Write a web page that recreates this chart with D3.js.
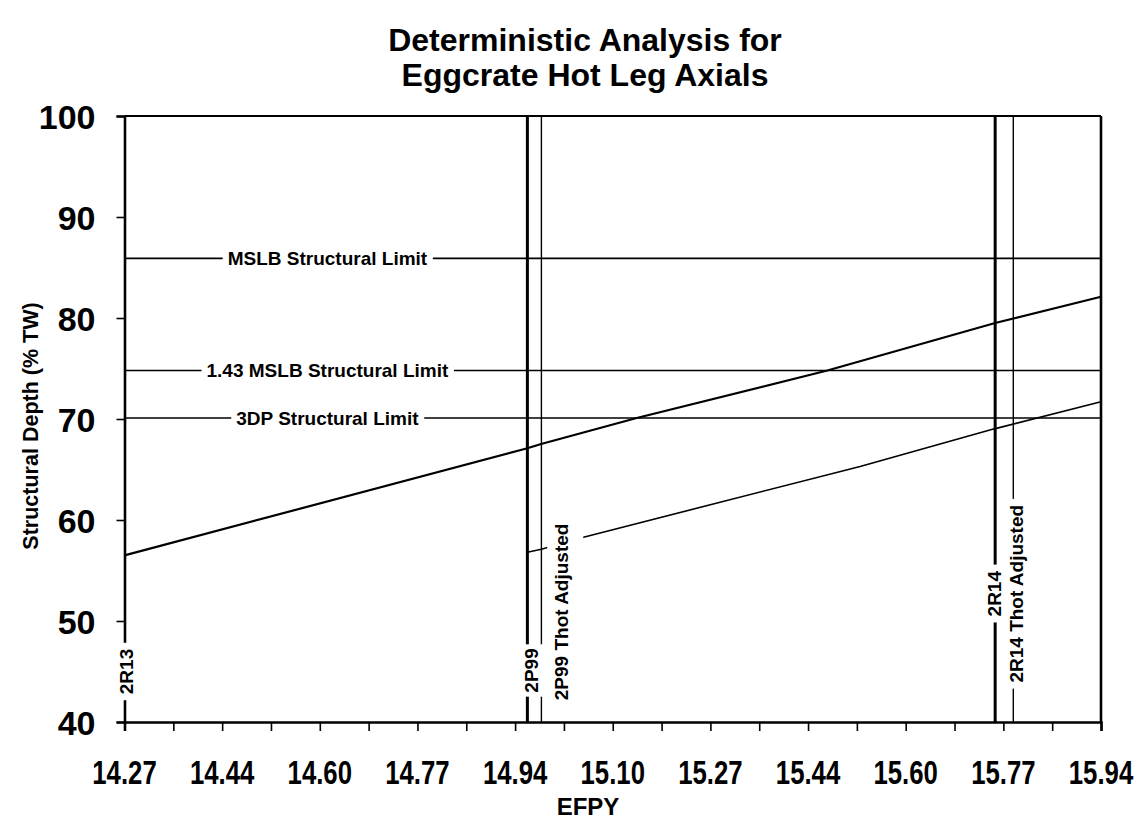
<!DOCTYPE html>
<html>
<head>
<meta charset="utf-8">
<script src="https://cdn.jsdelivr.net/npm/d3@7/dist/d3.min.js"></script>
<style>
  html, body { margin: 0; padding: 0; background: #fff; }
  svg { display: block; }
  text { font-family: "Liberation Sans", Arial, Helvetica, sans-serif; font-weight: bold; fill: #000; }
</style>
</head>
<body>
<svg id="chart" width="1142" height="820"></svg>
<script>
// ---------------- data ----------------
const titleLines = ["Deterministic Analysis for", "Eggcrate Hot Leg Axials"];
const xAxisTitle = "EFPY";
const yAxisTitle = "Structural Depth (% TW)";

const xDomain = [14.27, 15.94];
const xTickLabels = ["14.27","14.44","14.60","14.77","14.94","15.10","15.27","15.44","15.60","15.77","15.94"];
const yDomain = [40, 100];
const yTickValues = [40, 50, 60, 70, 80, 90, 100];

// horizontal structural limits
const limitNames  = ["MSLB Structural Limit", "1.43 MSLB Structural Limit", "3DP Structural Limit"];
const limitDepth  = [85.9, 74.8, 70.1];
const limitLabelEFPY = [14.617, 14.617, 14.617];

// vertical outage markers
const outageNames = ["2R13", "2P99", "2P99 Thot Adjusted", "2R14", "2R14 Thot Adjusted"];
const outageEFPY  = [14.27, 14.959, 14.983, 15.759, 15.790];
const outageLabelDepth = [45.0, 45.1, 50.9, 52.7, 52.7];

// growth projections
const upperEFPY  = [14.27, 14.959, 14.981, 15.146, 15.472, 15.759, 15.94];
const upperDepth = [56.5, 67.1, 67.5, 70.1, 74.8, 79.5, 82.1];
const lowerEFPY  = [14.959, 14.983, 15.055, 15.528, 15.756, 15.94];
const lowerDepth = [56.8, 57.1, 58.3, 65.3, 69.0, 71.7];

// ---------------- styles / layout ----------------
const plot = { left: 124.5, right: 1101, top: 116, bottom: 722 };
const outageStroke = [2.6, 3, 1.4, 3, 1.4];
const outageLabelDx = [2, 4, 20, -1, 3];
// label box padding: [along text, toward left of screen, toward right of screen]
const outageLabelPad = [[6, 1, 1], [4, 1, 1], [6, 4, 11], [6, 1, 1], [6, 1, 1]];

const svg = d3.select("#chart");
const x = d3.scaleLinear().domain(xDomain).range([plot.left, plot.right]);
const y = d3.scaleLinear().domain(yDomain).range([plot.bottom, plot.top]);

// title
svg.selectAll("text.title").data(titleLines).join("text")
  .attr("class", "title")
  .attr("x", 585).attr("y", (d, i) => 51 + i * 35)
  .attr("text-anchor", "middle")
  .style("font-size", "32px")
  .text(d => d);

// limits (horizontal lines)
const limG = svg.append("g");
limitDepth.forEach((v, i) => {
  limG.append("line")
    .attr("x1", x(xDomain[0])).attr("x2", x(xDomain[1]))
    .attr("y1", y(v)).attr("y2", y(v))
    .attr("stroke", "#000").attr("stroke-width", 1.6);
});

// data lines
const line = d3.line().x(d => x(d[0])).y(d => y(d[1]));
svg.append("path")
  .datum(upperEFPY.map((e, i) => [e, upperDepth[i]]))
  .attr("d", line).attr("fill", "none").attr("stroke", "#000").attr("stroke-width", 2.2);
svg.append("path")
  .datum(lowerEFPY.map((e, i) => [e, lowerDepth[i]]))
  .attr("d", line).attr("fill", "none").attr("stroke", "#000").attr("stroke-width", 1.6);

// frame (top, right)
svg.append("line").attr("x1", x(xDomain[0])).attr("x2", x(xDomain[1]))
  .attr("y1", y(yDomain[1])).attr("y2", y(yDomain[1]))
  .attr("stroke", "#000").attr("stroke-width", 2.2);
svg.append("line").attr("x1", x(xDomain[1])).attr("x2", x(xDomain[1]))
  .attr("y1", y(yDomain[0])).attr("y2", y(yDomain[1]))
  .attr("stroke", "#000").attr("stroke-width", 2.6);

// axes
const nMaj = xTickLabels.length - 1;
const xTickVals = xTickLabels.map((d, i) => xDomain[0] + i * (xDomain[1] - xDomain[0]) / nMaj);
const xMinorVals = d3.range(0, nMaj * 2 + 1).map(i => xDomain[0] + i * (xDomain[1] - xDomain[0]) / (nMaj * 2));

const xAxisG = svg.append("g").attr("transform", `translate(0,${plot.bottom})`)
  .call(d3.axisBottom(x).tickValues(xMinorVals).tickSize(9).tickFormat(""));
xAxisG.select(".domain").attr("stroke-width", 2.6);
xAxisG.selectAll(".tick line").attr("stroke-width", 1.6);

svg.append("g").selectAll("text").data(xTickVals).join("text")
  .attr("transform", (d) => `translate(${x(d)},784) scale(0.78,1)`)
  .attr("text-anchor", "middle")
  .style("font-size", "33px")
  .text((d, i) => xTickLabels[i]);

const yAxisG = svg.append("g").attr("transform", `translate(${plot.left},0)`)
  .call(d3.axisLeft(y).tickValues(yTickValues).tickSize(8).tickPadding(21).tickFormat(d3.format("d")));
yAxisG.select(".domain").attr("stroke-width", 2.6);
yAxisG.selectAll(".tick line").attr("stroke-width", 1.6);
yAxisG.selectAll(".tick text")
  .style("font-size", "34px")
  .style("font-family", "'Liberation Sans', Arial, sans-serif")
  .style("font-weight", "bold")
  .attr("dy", "0.36em");

// axis titles
svg.append("text").attr("x", 588).attr("y", 815).attr("text-anchor", "middle")
  .style("font-size", "24px").text(xAxisTitle);
svg.append("text").attr("transform", `translate(38,426) rotate(-90)`)
  .attr("text-anchor", "middle").style("font-size", "21.5px").text(yAxisTitle);

// outage vertical lines (2R13 coincides with axis)
const outG = svg.append("g");
outageEFPY.forEach((e, i) => {
  if (i === 0) return;
  outG.append("line")
    .attr("x1", x(e)).attr("x2", x(e))
    .attr("y1", y(yDomain[0])).attr("y2", y(yDomain[1]))
    .attr("stroke", "#000").attr("stroke-width", outageStroke[i]);
});

// labels with white background boxes
function boxedLabel(g, padAlong, padTop, padBottom) {
  const t = g.select("text");
  const b = t.node().getBBox();
  g.insert("rect", "text")
    .attr("x", b.x - padAlong).attr("y", b.y - padTop)
    .attr("width", b.width + 2 * padAlong).attr("height", b.height + padTop + padBottom)
    .attr("fill", "#fff");
}

limitNames.forEach((n, i) => {
  const g = svg.append("g").attr("transform", `translate(${x(limitLabelEFPY[i])},${y(limitDepth[i])})`);
  g.append("text").attr("text-anchor", "middle").attr("dy", "0.36em")
    .style("font-size", "19px").text(n);
  boxedLabel(g, 5, 0, 0);
});

outageNames.forEach((n, i) => {
  const g = svg.append("g")
    .attr("transform", `translate(${x(outageEFPY[i]) + outageLabelDx[i]},${y(outageLabelDepth[i])}) rotate(-90)`);
  g.append("text").attr("text-anchor", "middle").attr("dy", "0.36em")
    .style("font-size", "19px").text(n);
  const p = outageLabelPad[i];
  boxedLabel(g, p[0], p[1], p[2]);
});
</script>
</body>
</html>
